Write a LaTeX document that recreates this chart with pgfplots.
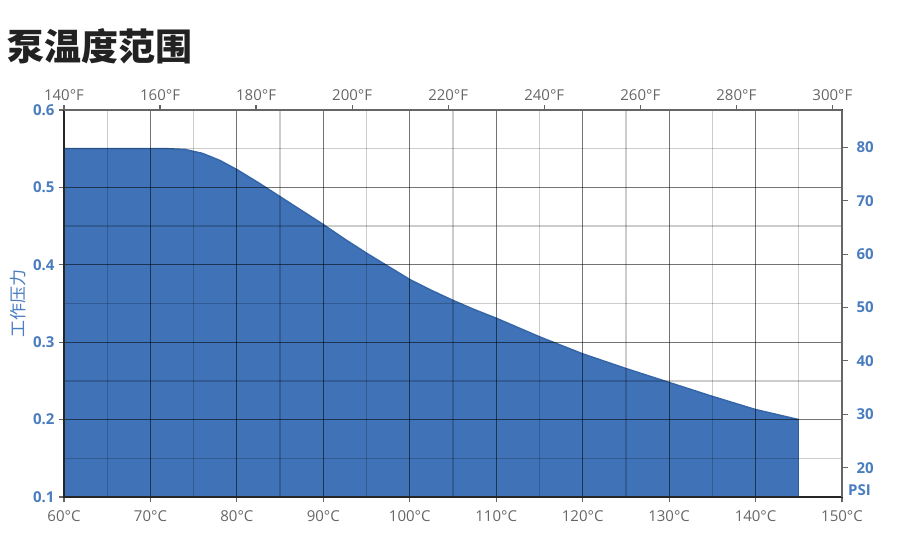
\documentclass[border=0pt]{standalone}
\usepackage{pgfplots}
\usepackage{pgfplotstable}
\pgfplotsset{compat=1.18}
\usepackage{fontspec}
\setmainfont{Open Sans}
\newfontfamily\cjk{Noto Sans CJK SC}
\definecolor{fillblue}{HTML}{4072B8}
\definecolor{edgeblue}{HTML}{3566A8}
\definecolor{labblue}{HTML}{4A7DC0}
\definecolor{labgray}{HTML}{666666}
\definecolor{titlecol}{HTML}{222222}
\pgfplotstableread{
x y
60 0.55
72 0.55
74 0.549
76 0.544
78 0.535
80 0.523
82.5 0.506
85 0.488
87.5 0.470
90 0.452
92.5 0.433
95 0.415
97.5 0.398
100 0.381
102.5 0.367
105 0.354
107.5 0.342
110 0.331
115 0.307
120 0.285
125 0.266
130 0.248
135 0.230
140 0.213
145 0.200
}\curvedata
\begin{document}
\begin{tikzpicture}
\useasboundingbox (-64pt,-61pt) rectangle (836pt,497pt);
\node[anchor=west, text=titlecol, font=\cjk\bfseries\fontsize{37}{40}\selectfont, inner sep=0pt] at (-57pt,451pt) {泵温度范围};
% main axis (Celsius / MPa)
\begin{axis}[
  at={(0,0)}, anchor=south west,
  scale only axis, width=778pt, height=387pt,
  xmin=60, xmax=150, ymin=0.1, ymax=0.6,
  xtick={60,70,...,150},
  xticklabels={60°C,70°C,80°C,90°C,100°C,110°C,120°C,130°C,140°C,150°C},
  minor xtick={65,75,...,145},
  ytick={0.1,0.2,0.3,0.4,0.5,0.6},
  yticklabels={{\bfseries 0.1},{\bfseries 0.2},{\bfseries 0.3},{\bfseries 0.4},{\bfseries 0.5},{\bfseries 0.6}},
  minor ytick={0.15,0.25,0.35,0.45,0.55},
  grid=both,
  major grid style={black, opacity=0.55, line width=1.2pt},
  minor grid style={black, opacity=0.2, line width=1.3pt},
  axis on top,
  axis line style={draw=labgray, line width=1.2pt},
  y axis line style={draw=black!85, line width=1.4pt},
  tick align=outside,
  xtick pos=bottom, ytick pos=left,
  major tick length=5pt, minor tick length=0pt,
  tick style={labgray, line width=1.2pt},
  xticklabel style={text=labgray, font=\fontsize{15}{17}\selectfont, yshift=-5pt},
  yticklabel style={text=labblue, font=\fontsize{15}{17}\selectfont, xshift=-1pt},
  ylabel={\cjk 工作压力},
  ylabel style={at={(axis description cs:-0.059,0.5)}, anchor=center, text=labblue, font=\fontsize{17}{19}\selectfont},
]
\addplot[fill=fillblue, draw=none] table {\curvedata} \closedcycle;
\addplot[draw=edgeblue, line width=1.5pt] table {\curvedata};
\end{axis}
% right axis (PSI)
\begin{axis}[
  at={(0,0)}, anchor=south west,
  scale only axis, width=778pt, height=387pt,
  xmin=60, xmax=150, ymin=14.5, ymax=87,
  clip=false,
  axis x line=none,
  axis y line*=right,
  axis line style={draw=labgray, line width=1.2pt, -},
  ytick={20,30,...,80},
  yticklabels={{\bfseries 20},{\bfseries 30},{\bfseries 40},{\bfseries 50},{\bfseries 60},{\bfseries 70},{\bfseries 80}},
  tick align=outside,
  major tick length=6pt,
  tick style={labgray, line width=1.2pt},
  yticklabel style={text=labblue, font=\fontsize{15}{17}\selectfont, xshift=5pt},
]
\addplot[draw=none] coordinates {(60,20)};
\node[anchor=south west, text=labblue, font=\bfseries\fontsize{15}{17}\selectfont, inner sep=0pt] at (rel axis cs:1,0) [xshift=6pt, yshift=1pt] {PSI};
\end{axis}
% top axis (Fahrenheit)
\begin{axis}[
  at={(0,0)}, anchor=south west,
  scale only axis, width=778pt, height=387pt,
  xmin=140, xmax=302, ymin=0.1, ymax=0.6,
  axis y line=none,
  axis x line*=top,
  axis line style={draw=labgray, line width=1.2pt, -},
  xtick={140,160,...,300},
  xticklabels={140°F,160°F,180°F,200°F,220°F,240°F,260°F,280°F,300°F},
  tick align=outside,
  major tick length=5pt,
  tick style={labgray, line width=1.2pt},
  xticklabel style={text=labgray, font=\fontsize{15}{17}\selectfont, yshift=1pt},
]
\addplot[draw=none] coordinates {(150,0.3)};
\end{axis}
\end{tikzpicture}
\end{document}
